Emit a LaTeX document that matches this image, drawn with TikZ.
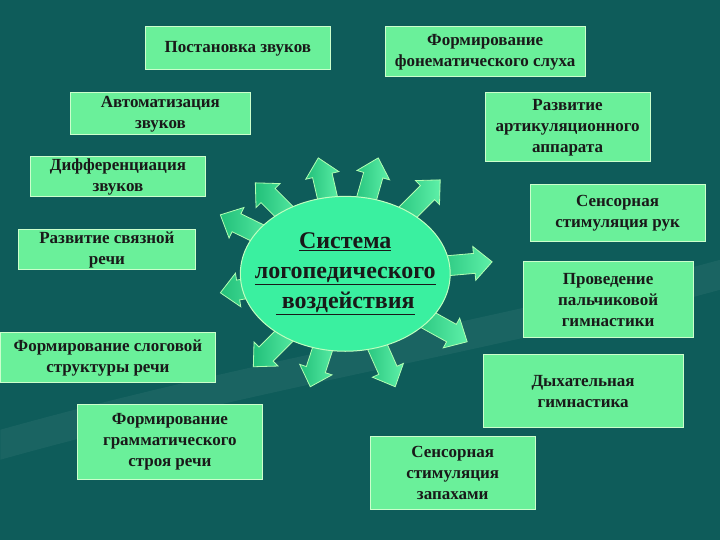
\documentclass[tikz,border=0pt]{standalone}
\usepackage{fontspec}
\setmainfont{Liberation Serif}
\usetikzlibrary{shapes.geometric}
\begin{document}
\begin{tikzpicture}[x=1pt,y=-1pt,
  bx/.style={draw=white!80!green,line width=1pt,fill=box,inner sep=0pt,font=\bfseries\fontsize{17}{21}\selectfont,align=center,text=black!90},
  arr/.style={draw=white!70!green,line width=0.8pt,left color=arrA,right color=arrB,shading angle=90}]
\definecolor{bg}{HTML}{0E5C5A}
\definecolor{box}{HTML}{6AF09A}
\definecolor{arrA}{HTML}{22C07A}
\definecolor{arrB}{HTML}{5EF0A8}
\definecolor{ell}{HTML}{3AF0A0}
\fill[bg] (0,0) rectangle (720,540);
\fill[white,opacity=0.05] (0,430) .. controls (250,360) and (500,320) .. (720,260) -- (720,290) .. controls (500,350) and (250,390) .. (0,460) -- cycle;
\newcommand{\bxx}[6]{\node[bx,minimum width=#3-#1,minimum height=#4-#2] (#5) at ({(#1+#3)/2},{(#2+#4)/2}) {#6};}
\bxx{145}{27}{330}{70}{b1}{Постановка звуков}
\bxx{385}{27}{585}{77}{b2}{Формирование\\фонематического слуха}
\bxx{70}{93}{250}{135}{b3}{Автоматизация\\звуков}
\bxx{485}{93}{650}{162}{b4}{Развитие\\артикуляционного\\аппарата}
\bxx{30}{157}{205}{197}{b5}{Дифференциация\\звуков}
\bxx{530}{185}{705}{242}{b6}{Сенсорная\\стимуляция рук}
\bxx{18}{230}{195}{270}{b7}{Развитие связной\\речи}
\bxx{523}{262}{693}{338}{b8}{Проведение\\пальчиковой\\гимнастики}
\bxx{0}{333}{215}{383}{b9}{Формирование слоговой\\структуры речи}
\bxx{483}{355}{683}{428}{b10}{Дыхательная\\гимнастика}
\bxx{77}{405}{262}{480}{b11}{Формирование\\грамматического\\строя речи}
\bxx{370}{437}{535}{510}{b12}{Сенсорная\\стимуляция\\запахами}
\foreach \tx/\ty/\a in {318/158/103,378/158/74,440/180/45,492/262/5,467/342/-29,395/387/-66,310/387/-108,253/367/-135,220/293/-171,220/215/154,255/183/135}{
  \begin{scope}[shift={(\tx,\ty)},rotate=\a]
  \draw[arr] (0,0) -- (-18,17) -- (-18,10) -- (-60,10) -- (-60,-10) -- (-18,-10) -- (-18,-17) -- cycle;
  \end{scope}}
\node[ellipse,draw=white!75!green,line width=1pt,fill=ell,minimum width=210,minimum height=155,inner sep=0pt] (c) at (345,274) {};
\node[font=\bfseries\fontsize{24}{30}\selectfont,align=center,text=black!90] (ct) at (345,274) {\underline{Система}\\\underline{логопедического}\\\underline{ воздействия}};
\end{tikzpicture}
\end{document}
